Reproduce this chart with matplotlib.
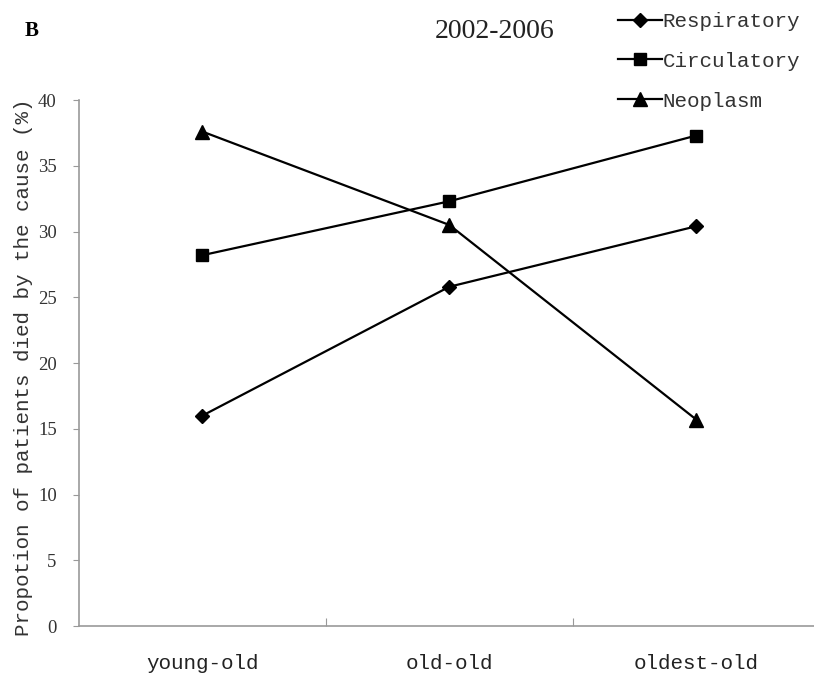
import matplotlib.pyplot as plt
from matplotlib.lines import Line2D

groups = ["young-old", "old-old", "oldest-old"]
respiratory = [16.0, 25.8, 30.4]
circulatory = [28.2, 32.3, 37.3]
neoplasm = [37.6, 30.5, 15.7]

mono = "Liberation Mono"
serif = "Liberation Serif"

fig = plt.figure(figsize=(8.14, 6.8), dpi=100)
ax = fig.add_axes([0.097, 0.0794, 0.910, 0.7735])

x = range(len(groups))
ax.plot(x, respiratory, color="black", lw=1.6, marker="D", ms=7)
ax.plot(x, circulatory, color="black", lw=1.6, marker="s", ms=9)
ax.plot(x, neoplasm, color="black", lw=1.6, marker="^", ms=10)

ax.set_xlim(-0.5, 2.5)
ax.set_ylim(0, 40)
ax.set_yticks(range(0, 41, 5))
ax.set_xticks([0.5, 1.5])
ax.set_xticklabels([])
ax.set_xticks(list(x), minor=True)
ax.set_xticklabels(groups, minor=True, family=mono, fontsize=15, color="#222222")
ax.tick_params(axis="x", which="minor", length=0, pad=20)
ax.tick_params(axis="x", which="major", direction="in", length=6, color="#999999")
ax.tick_params(axis="y", direction="out", length=4, color="#999999", pad=12,
               labelsize=13.5, labelcolor="#333333")
for lab in ax.get_yticklabels():
    lab.set_family(serif)

for s in ["top", "right"]:
    ax.spines[s].set_visible(False)
for s in ["left", "bottom"]:
    ax.spines[s].set_color("#999999")
    ax.spines[s].set_linewidth(1.2)

ax.set_ylabel("Propotion of patients died by the cause (%)", family=mono,
              fontsize=15, color="#333333")
ax.yaxis.set_label_coords(-0.062, 0.492)

fig.text(0.030, 0.955, "B", family=serif, fontweight="bold", fontsize=15, va="center")
fig.text(0.608, 0.953, "2002-2006", family=serif, fontsize=20, va="center", ha="center",
         color="#222222")

handles = [
    Line2D([], [], color="black", lw=1.6, marker="D", ms=7),
    Line2D([], [], color="black", lw=1.6, marker="s", ms=9),
    Line2D([], [], color="black", lw=1.6, marker="^", ms=10),
]
leg = fig.legend(handles, ["Respiratory", "Circulatory", "Neoplasm"],
                 loc="upper left", bbox_to_anchor=(0.736, 1.01), frameon=False,
                 prop={"family": mono, "size": 15}, handlelength=2.1,
                 handletextpad=0.05, labelspacing=1.0)
for t in leg.get_texts():
    t.set_color("#333333")

fig.savefig("out.png", dpi=100)
